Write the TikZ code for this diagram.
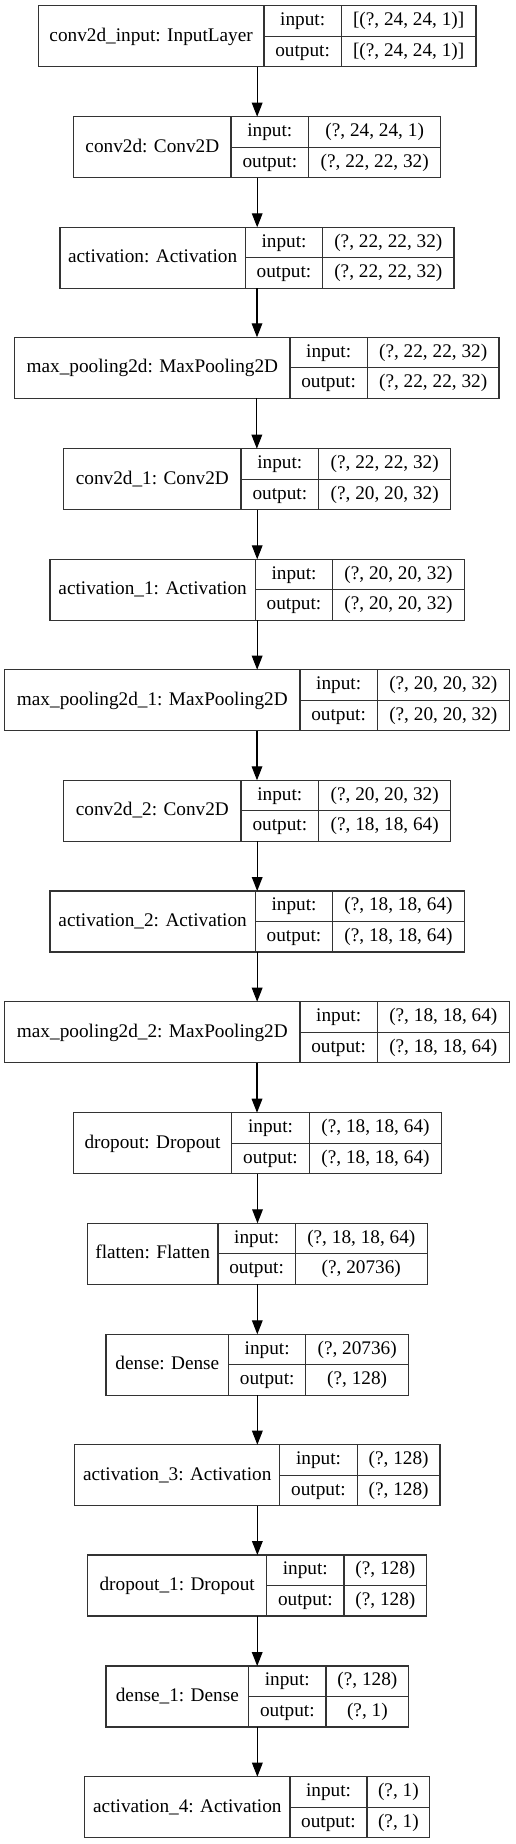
\documentclass[tikz,border=0pt]{standalone}
\usepackage{fontspec}
\setmainfont{Liberation Serif}
\usetikzlibrary{arrows.meta}
\tikzset{
  layerbox/.style={draw=black!80, line width=1pt, rectangle, inner sep=0pt, outer sep=0pt, minimum height=45.75pt},
  divline/.style={draw=black!80, line width=1pt},
  txt/.style={inner sep=0pt, font=\fontsize{14.45}{16}\selectfont, text height=9.5pt, text depth=3pt},
  arr/.style={draw=black, line width=0.9pt, -{Triangle[length=10.5pt,width=8pt]}}
}
\newcommand\layerrow[9]{%
  \pgfmathsetmacro\Lcx{(#3+#6)/2}%
  \pgfmathsetmacro\Lw{(#6-#3)*0.75}%
  \pgfmathsetmacro\Lcy{#2+30.5}%
  \pgfmathsetmacro\Lb{#2+61}%
  \pgfmathsetmacro\Lu{#2+15.6}%
  \pgfmathsetmacro\Ll{#2+46.1}%
  \node[layerbox, minimum width=\Lw pt] (#1) at (\Lcx,\Lcy) {};
  \draw[divline] (#4,#2) -- (#4,\Lb);
  \draw[divline] (#5,#2) -- (#5,\Lb);
  \draw[divline] (#4,\Lcy) -- (#6,\Lcy);
  \node[txt] (#1-l) at ({(#3+#4)/2},\Lcy+0.5) {#7};
  \node[txt] (#1-i) at ({(#4+#5)/2},\Lu) {input:};
  \node[txt] (#1-o) at ({(#4+#5)/2},\Ll) {output:};
  \node[txt] (#1-iv) at ({(#5+#6)/2},\Lu) {#8};
  \node[txt] (#1-ov) at ({(#5+#6)/2},\Ll) {#9};
}
\begin{document}
\begin{tikzpicture}[x=0.75pt, y=-0.75pt]
\useasboundingbox (0,0) rectangle (515,1844);
\fill[white] (0,0) rectangle (515,1844);
\layerrow{in0}{5.7}{38.3}{264}{341.3}{476}{conv2d\_input: InputLayer}{[(?, 24, 24, 1)]}{[(?, 24, 24, 1)]}
\layerrow{c0}{116.7}{73.7}{231}{308.7}{440.7}{conv2d: Conv2D}{(?, 24, 24, 1)}{(?, 22, 22, 32)}
\layerrow{a0}{227.3}{60}{245.3}{322.7}{454}{activation: Activation}{(?, 22, 22, 32)}{(?, 22, 22, 32)}
\layerrow{m0}{337.3}{14.7}{290}{367.3}{499}{max\_pooling2d: MaxPooling2D}{(?, 22, 22, 32)}{(?, 22, 22, 32)}
\layerrow{c1}{448.7}{63.7}{241}{318.7}{450.7}{conv2d\_1: Conv2D}{(?, 22, 22, 32)}{(?, 20, 20, 32)}
\layerrow{a1}{559.3}{50}{255.3}{332.7}{464.3}{activation\_1: Activation}{(?, 20, 20, 32)}{(?, 20, 20, 32)}
\layerrow{m1}{669.7}{4.7}{300}{377.3}{509.3}{max\_pooling2d\_1: MaxPooling2D}{(?, 20, 20, 32)}{(?, 20, 20, 32)}
\layerrow{c2}{780.3}{63.7}{241}{318.7}{450.7}{conv2d\_2: Conv2D}{(?, 20, 20, 32)}{(?, 18, 18, 64)}
\layerrow{a2}{891}{50}{255.3}{332.7}{464.3}{activation\_2: Activation}{(?, 18, 18, 64)}{(?, 18, 18, 64)}
\layerrow{m2}{1001.7}{4.7}{300}{377.3}{509.3}{max\_pooling2d\_2: MaxPooling2D}{(?, 18, 18, 64)}{(?, 18, 18, 64)}
\layerrow{dr0}{1112.7}{73.3}{231.7}{309.3}{441.7}{dropout: Dropout}{(?, 18, 18, 64)}{(?, 18, 18, 64)}
\layerrow{fl}{1223.3}{87.3}{218}{295.3}{427.3}{flatten: Flatten}{(?, 18, 18, 64)}{(?, 20736)}
\layerrow{de0}{1334.3}{106}{228.7}{305.7}{408.7}{dense: Dense}{(?, 20736)}{(?, 128)}
\layerrow{a3}{1444.7}{74.7}{279.7}{357.3}{440}{activation\_3: Activation}{(?, 128)}{(?, 128)}
\layerrow{dr1}{1555}{87.7}{266.7}{344}{426.7}{dropout\_1: Dropout}{(?, 128)}{(?, 128)}
\layerrow{de1}{1666}{106}{248.7}{326}{408.7}{dense\_1: Dense}{(?, 128)}{(?, 1)}
\layerrow{a4}{1776.7}{84.7}{290}{367}{429.7}{activation\_4: Activation}{(?, 1)}{(?, 1)}
\foreach \u/\v in {in0/c0,c0/a0,a0/m0,m0/c1,c1/a1,a1/m1,m1/c2,c2/a2,a2/m2,m2/dr0,dr0/fl,fl/de0,de0/a3,a3/dr1,dr1/de1,de1/a4}{
  \draw[arr] (\u.south) -- (\u.south |- \v.north);
}
\end{tikzpicture}
\end{document}
